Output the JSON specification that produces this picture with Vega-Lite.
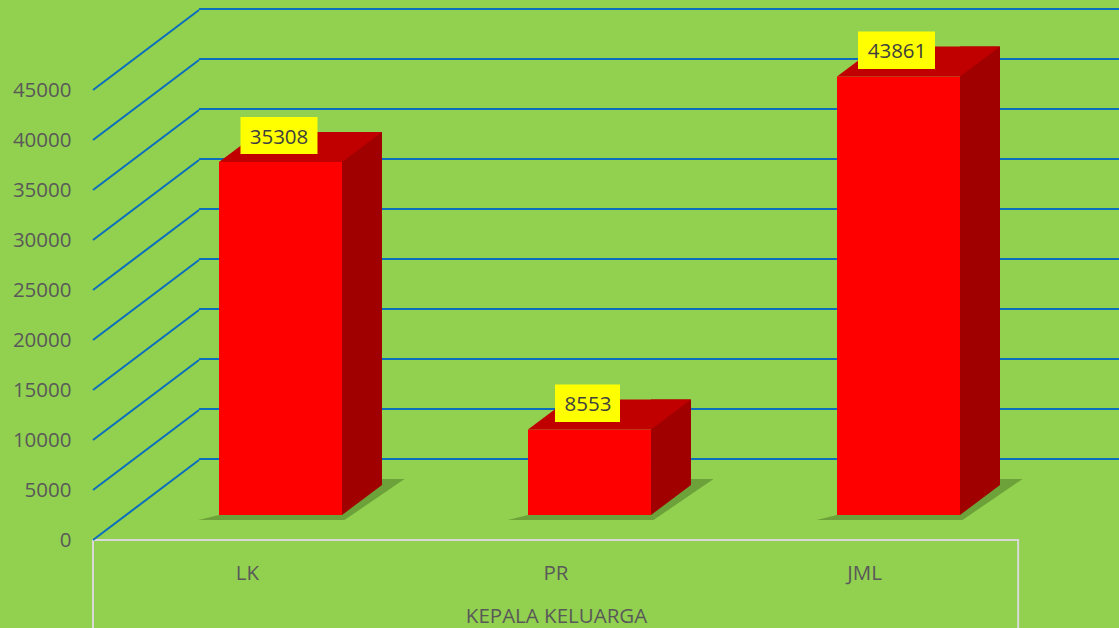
{
  "$schema": "https://vega.github.io/schema/vega-lite/v6.json",
  "autosize": "none",
  "width": 1026,
  "height": 540,
  "padding": {"left": 93, "top": 0, "right": 0, "bottom": 88},
  "background": "#92D050",
  "config": {"view": {"stroke": null}, "font": "Open Sans"},
  "datasets": {
    "bars": [
      {"cat": "LK", "v": 35308},
      {"cat": "PR", "v": 8553},
      {"cat": "JML", "v": 43861}
    ],
    "ticks": [
      {"t": 0}, {"t": 5000}, {"t": 10000}, {"t": 15000}, {"t": 20000},
      {"t": 25000}, {"t": 30000}, {"t": 35000}, {"t": 40000}, {"t": 45000}
    ]
  },
  "data": {"name": "bars"},
  "resolve": {"scale": {"x": "independent", "y": "independent"}, "axis": {"x": "independent", "y": "independent"}},
  "layer": [
    {
      "data": {"values": [{}]},
      "mark": {"type": "rect", "fillOpacity": 0, "stroke": "#D9D9D9", "strokeWidth": 2},
      "encoding": {
        "x": {"datum": -0.5, "type": "quantitative", "scale": {"domain": [-0.5, 2.5], "range": [0, 927], "nice": false, "zero": false}, "axis": null},
        "x2": {"datum": 2.494},
        "y": {"datum": 0, "type": "quantitative", "scale": {"domain": [0, 54000], "nice": false, "zero": false}, "axis": null},
        "y2": {"datum": -10000}
      }
    },
    {
      "data": {"name": "ticks"},
      "mark": {"type": "rule", "stroke": "#0A6EBD", "strokeWidth": 2},
      "encoding": {
        "x": {"datum": -0.157, "type": "quantitative", "scale": {"domain": [-0.5, 2.5], "range": [0, 927], "nice": false, "zero": false}, "axis": null},
        "x2": {"datum": 2.83},
        "y": {"field": "t", "type": "quantitative", "scale": {"domain": [-8100, 45900], "nice": false, "zero": false}, "axis": null}
      }
    },
    {
      "data": {"name": "ticks"},
      "mark": {"type": "point", "shape": "M 0 0 L 106 -80", "size": 4, "filled": false, "stroke": "#0A6EBD", "strokeWidth": 2, "opacity": 1},
      "encoding": {
        "x": {"datum": -0.5, "type": "quantitative", "scale": {"domain": [-0.5, 2.5], "range": [0, 927], "nice": false, "zero": false}, "axis": null},
        "y": {"field": "t", "type": "quantitative", "scale": {"domain": [0, 54000], "nice": false, "zero": false},
          "axis": {"orient": "left", "title": null, "grid": false, "domain": false, "ticks": false, "tickSize": 0, "labelPadding": 22,
            "values": [0, 5000, 10000, 15000, 20000, 25000, 30000, 35000, 40000, 45000], "format": "d",
            "labelFont": "Open Sans", "labelFontSize": 20.5, "labelColor": "#595959"}}
      }
    },
    {
      "mark": {"type": "point", "shape": "M -82 5 L 64 5 L 124 -36 L 100 -36 L 50 0 L -61.5 0 Z", "size": 4, "filled": true, "fill": "#3F6A1C", "opacity": 0.45, "strokeWidth": 0},
      "encoding": {
        "x": {"field": "cat", "type": "nominal", "scale": {"type": "band", "domain": ["LK", "PR", "JML"], "range": [126, 867], "paddingInner": 0.601942, "paddingOuter": 0, "round": false}, "axis": null},
        "y": {"datum": 0, "type": "quantitative", "scale": {"domain": [-2500, 51500], "nice": false, "zero": false}, "axis": null}
      }
    },
    {
      "mark": {"type": "bar", "color": "#A00000"},
      "encoding": {
        "x": {"field": "cat", "type": "nominal", "scale": {"type": "band", "domain": ["LK", "PR", "JML"], "range": [249, 907], "paddingInner": 0.87055, "paddingOuter": 0, "round": false}, "axis": null},
        "y": {"field": "v", "type": "quantitative", "scale": {"domain": [-5500, 48500], "nice": false, "zero": false}, "axis": null},
        "y2": {"datum": 0}
      }
    },
    {
      "mark": {"type": "point", "shape": "M 61.5 -30 L 61.5 0 L 101.5 -30 Z", "size": 4, "filled": true, "fill": "#A00000", "opacity": 1, "strokeWidth": 0},
      "encoding": {
        "x": {"field": "cat", "type": "nominal", "scale": {"type": "band", "domain": ["LK", "PR", "JML"], "range": [126, 867], "paddingInner": 0.601942, "paddingOuter": 0, "round": false}, "axis": null},
        "y": {"datum": 0, "type": "quantitative", "scale": {"domain": [-2500, 51500], "nice": false, "zero": false}, "axis": null}
      }
    },
    {
      "mark": {"type": "bar", "color": "#FF0000"},
      "encoding": {
        "x": {"field": "cat", "type": "nominal", "scale": {"type": "band", "domain": ["LK", "PR", "JML"], "range": [126, 867], "paddingInner": 0.601942, "paddingOuter": 0, "round": false}, "axis": null},
        "y": {"field": "v", "type": "quantitative", "scale": {"domain": [-2500, 51500], "nice": false, "zero": false}, "axis": null},
        "y2": {"datum": 0}
      }
    },
    {
      "mark": {"type": "point", "shape": "M -61.5 0 L 61.5 0 L 101.5 -30 L -21.5 -30 Z", "size": 4, "filled": true, "fill": "#C00000", "opacity": 1, "strokeWidth": 0},
      "encoding": {
        "x": {"field": "cat", "type": "nominal", "scale": {"type": "band", "domain": ["LK", "PR", "JML"], "range": [126, 867], "paddingInner": 0.601942, "paddingOuter": 0, "round": false}, "axis": null},
        "y": {"field": "v", "type": "quantitative", "scale": {"domain": [-2500, 51500], "nice": false, "zero": false}, "axis": null}
      }
    },
    {
      "mark": {"type": "point", "size": 4, "filled": true, "fill": "#FFFF00", "opacity": 1, "strokeWidth": 0},
      "encoding": {
        "x": {"field": "cat", "type": "nominal", "scale": {"type": "band", "domain": ["LK", "PR", "JML"], "range": [126, 867], "paddingInner": 0.601942, "paddingOuter": 0, "round": false}, "axis": null},
        "y": {"field": "v", "type": "quantitative", "scale": {"domain": [-2500, 51500], "nice": false, "zero": false}, "axis": null},
        "shape": {"field": "cat", "type": "nominal", "legend": null, "scale": {"domain": ["LK", "PR", "JML"],
          "range": ["M -40 -45 L 37 -45 L 37 -8 L -40 -8 Z", "M -34.5 -45 L 30.5 -45 L 30.5 -7.5 L -34.5 -7.5 Z", "M -40.5 -45 L 36.5 -45 L 36.5 -7.5 L -40.5 -7.5 Z"]}}
      }
    },
    {
      "mark": {"type": "text", "font": "Open Sans", "fontSize": 20.5, "color": "#404040", "align": "center", "baseline": "middle", "dx": -1.5, "dy": -24},
      "encoding": {
        "x": {"field": "cat", "type": "nominal", "scale": {"type": "band", "domain": ["LK", "PR", "JML"], "range": [126, 867], "paddingInner": 0.601942, "paddingOuter": 0, "round": false}, "axis": null},
        "y": {"field": "v", "type": "quantitative", "scale": {"domain": [-2500, 51500], "nice": false, "zero": false}, "axis": null},
        "text": {"field": "v", "type": "quantitative", "format": "d"}
      }
    },
    {
      "mark": {"type": "point", "opacity": 0, "size": 1},
      "encoding": {
        "x": {"field": "cat", "type": "nominal", "scale": {"type": "band", "domain": ["LK", "PR", "JML"], "range": [0, 926], "paddingInner": 0, "paddingOuter": 0, "round": false},
          "axis": {"orient": "bottom", "title": "KEPALA KELUARGA", "domain": false, "ticks": false, "tickSize": 0, "grid": false, "labelAngle": 0, "labelPadding": 23,
            "labelFont": "Open Sans", "labelFontSize": 20.5, "labelColor": "#595959",
            "titleFont": "Open Sans", "titleFontSize": 20.5, "titleFontWeight": "normal", "titleColor": "#595959", "titleY": 66, "titleBaseline": "top"}},
        "y": {"datum": 0, "type": "quantitative", "scale": {"domain": [0, 54000], "nice": false, "zero": false}, "axis": null}
      }
    }
  ]
}
